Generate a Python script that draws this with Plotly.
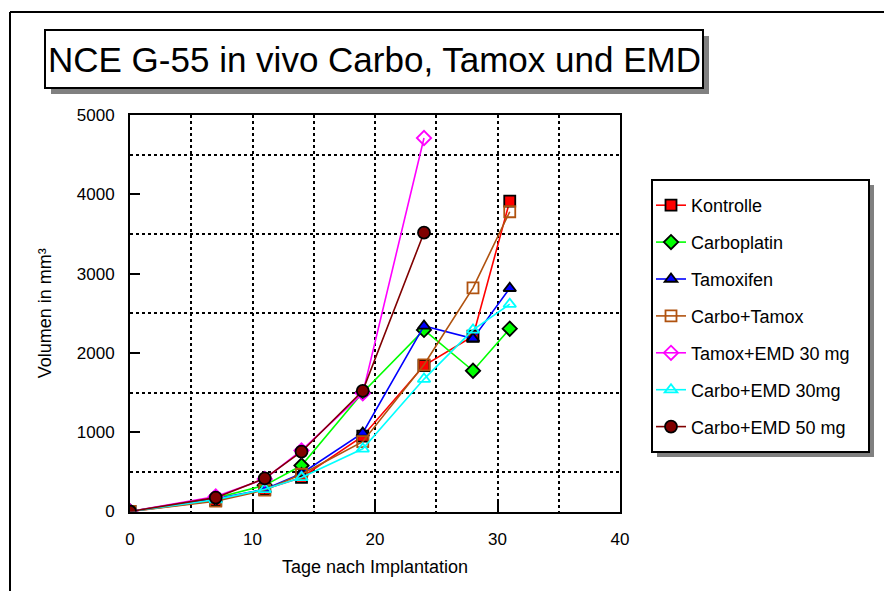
import plotly.graph_objects as go

W, H = 884, 591

days = [0, 7, 11, 14, 19, 24, 28, 31]
days_short = [0, 7, 11, 14, 19, 24]

kontrolle = [0, 140, 280, 430, 950, 1840, 2210, 3915]
carboplatin = [0, 170, 330, 580, 1500, 2290, 1775, 2305]
tamoxifen = [0, 160, 280, 480, 990, 2340, 2180, 2815]
carbo_tamox = [0, 130, 270, 470, 880, 1850, 2820, 3780]
tamox_emd30 = [0, 190, 410, 770, 1490, 4710]
carbo_emd30 = [0, 150, 280, 430, 790, 1670, 2290, 2615]
carbo_emd50 = [0, 175, 418, 754, 1522, 3516]

names = ["Kontrolle", "Carboplatin", "Tamoxifen", "Carbo+Tamox",
         "Tamox+EMD 30 mg", "Carbo+EMD 30mg", "Carbo+EMD 50 mg"]

series = [
    (names[0], days, kontrolle, "#FF0000", "square", "#FF0000", "#000000"),
    (names[1], days, carboplatin, "#00FF00", "diamond", "#00FF00", "#000000"),
    (names[2], days, tamoxifen, "#0000FF", "triangle-up", "#0000FF", "#000000"),
    (names[3], days, carbo_tamox, "#B0520F", "square-open", None, "#B0520F"),
    (names[4], days_short, tamox_emd30, "#FF00FF", "diamond-open", None, "#FF00FF"),
    (names[5], days, carbo_emd30, "#00FFFF", "triangle-up-open", None, "#00FFFF"),
    (names[6], days_short, carbo_emd50, "#800000", "circle", "#800000", "#000000"),
]

fig = go.Figure()
for i, (nm, xs, ys, col, sym, fill, edge) in enumerate(series):
    marker = dict(symbol=sym, size=12 if sym == "circle" else 11, line=dict(color=edge, width=1.8))
    marker["color"] = fill if fill else col
    fig.add_trace(go.Scatter(
        x=xs, y=ys, name=nm, mode="lines+markers",
        line=dict(color=col, width=1.6),
        marker=marker, legendgroup=f"g{i}",
    ))

def px(x):
    return x / W

def py(y):
    return 1 - y / H

font = "Arial, Liberation Sans, sans-serif"

fig.update_layout(
    width=W, height=H,
    margin=dict(l=0, r=0, t=0, b=0),
    paper_bgcolor="white", plot_bgcolor="white",
    font=dict(family=font, size=17, color="black"),
    showlegend=True,
    legend=dict(
        x=px(651), y=py(187), xanchor="left", yanchor="top",
        bgcolor="rgba(0,0,0,0)", borderwidth=0,
        font=dict(size=18, family=font),
        tracegroupgap=10.5, itemwidth=30,
    ),
    xaxis=dict(
        domain=[px(130), px(620)], range=[0, 40], dtick=10, tick0=0,
        showline=True, linecolor="black", linewidth=2, mirror=True,
        ticks="inside", ticklen=10, tickwidth=1.5, tickcolor="black",
        showgrid=True, gridcolor="black", griddash="dot", gridwidth=1.5,
        minor=dict(dtick=5, showgrid=True, gridcolor="black", griddash="dot", gridwidth=1.5, ticks=""),
        zeroline=False, automargin=False,
        ticklabelstandoff=11,
        title=dict(text="Tage nach Implantation", standoff=12, font=dict(size=18)),
        tickfont=dict(size=17),
    ),
    yaxis=dict(
        domain=[1 - 511.5 / H, 1 - 115 / H], range=[0, 5000], dtick=1000, tick0=0,
        showline=True, linecolor="black", linewidth=2, mirror=True,
        ticks="inside", ticklen=10, tickwidth=1.5, tickcolor="black",
        showgrid=False,
        minor=dict(tick0=500, dtick=1000, showgrid=True, gridcolor="black", griddash="dot", gridwidth=1.5, ticks=""),
        zeroline=False, automargin=False,
        ticklabelstandoff=10,
        title=dict(text="Volumen in mm³", standoff=20, font=dict(size=18)),
        tickfont=dict(size=17),
    ),
    shapes=[
        # outer frame
        dict(type="line", xref="paper", yref="paper", x0=px(10), y0=py(12), x1=1.0, y1=py(12),
             line=dict(color="black", width=2)),
        dict(type="line", xref="paper", yref="paper", x0=px(10), y0=py(12), x1=px(10), y1=0.0,
             line=dict(color="black", width=2)),
        # title box shadow + box
        dict(type="rect", xref="paper", yref="paper", x0=px(51), y0=py(94), x1=px(709), y1=py(36),
             fillcolor="#808080", line=dict(width=0), layer="above"),
        dict(type="rect", xref="paper", yref="paper", x0=px(45), y0=py(88), x1=px(703), y1=py(30),
             fillcolor="white", line=dict(color="black", width=2), layer="above"),
        # legend shadow + box
        dict(type="rect", xref="paper", yref="paper", x0=px(657), y0=py(457), x1=px(874), y1=py(185),
             fillcolor="#808080", line=dict(width=0), layer="above"),
        dict(type="rect", xref="paper", yref="paper", x0=px(652), y0=py(452), x1=px(869), y1=py(180),
             fillcolor="white", line=dict(color="black", width=2), layer="above"),
    ],
    annotations=[
        dict(text="NCE G-55 in vivo Carbo, Tamox und EMD", xref="paper", yref="paper",
             x=px(374), y=py(59), xanchor="center", yanchor="middle", showarrow=False,
             font=dict(size=35, family=font, color="black")),
    ],
)

fig.write_html("out.html")
